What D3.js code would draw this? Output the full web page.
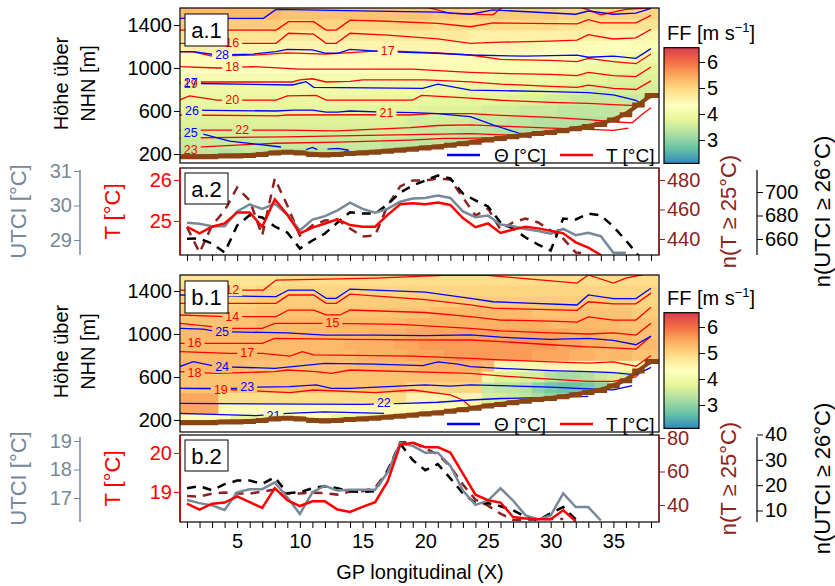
<!DOCTYPE html>
<html><head><meta charset="utf-8">
<script src="https://cdn.jsdelivr.net/npm/d3@7"></script>
<style>body{margin:0;background:#fff}</style>
</head><body><svg id="c" width="835" height="586"></svg>
<script>
// ---------------- DATA ----------------
const gpIdx = d3.range(1, 39);
const xTickLabels = [5, 10, 15, 20, 25, 30, 35];
const terrain = [180,180,180,185,185,190,200,215,220,215,200,195,200,210,215,220,230,240,250,260,270,285,300,315,335,350,365,380,395,405,420,440,460,480,520,570,660,750];
const levels = [1500,1400,1300,1200,1100,1000,900,800,700,600,500,400,300,200];
// FF (x10) rows top->bottom, columns GP1..38
const ffA = [
[53,53,53,53,53,53,53,53,52,52,52,52,52,52,52,52,52,52,52,52,51,51,51,51,51,51,51,51,51,51,50,50,50,50,50,50,50,50],
[51,51,51,51,51,51,51,51,50,50,50,50,50,50,50,50,50,50,50,50,49,49,49,49,49,49,49,49,49,49,48,48,48,48,48,48,48,48],
[48,48,48,48,48,48,48,48,47,47,47,47,47,47,47,47,47,47,47,47,47,47,47,46,46,46,46,46,46,46,46,46,46,46,45,45,45,45],
[46,46,46,45,45,45,45,45,45,45,45,45,45,45,45,45,45,45,45,45,45,45,45,45,45,45,45,45,45,44,44,44,44,44,43,43,42,42],
[44,44,44,44,44,44,44,44,44,44,44,44,44,44,44,44,44,44,44,44,44,44,44,44,44,44,44,43,43,43,43,43,43,42,41,41,40,40],
[43,43,43,43,43,43,43,43,43,43,43,43,43,43,43,42,42,42,42,42,42,42,42,42,42,42,42,42,42,42,41,41,40,40,39,39,38,38],
[41,41,41,41,41,41,41,41,41,41,41,41,41,41,41,41,41,41,41,41,41,41,41,41,41,40,40,40,40,40,39,39,38,38,37,37,37,37],
[40,40,40,40,40,40,40,40,40,40,40,40,40,40,40,40,40,40,40,40,40,40,39,39,39,39,39,38,38,38,37,37,36,36,36,36,36,36],
[39,39,39,39,39,39,39,39,39,39,39,39,39,39,39,39,39,39,39,39,38,38,38,38,38,38,37,37,37,36,36,35,35,35,35,35,35,35],
[38,38,38,38,38,38,38,38,38,38,38,38,38,38,38,38,38,38,38,37,37,37,37,37,36,36,36,35,35,35,34,34,34,34,34,35,35,35],
[37,37,37,37,37,37,37,37,37,37,37,37,37,37,37,37,37,37,36,36,36,36,36,35,35,35,34,34,33,33,33,33,33,33,34,34,34,34],
[36,36,36,36,36,36,36,36,36,36,36,36,36,36,36,36,36,36,35,35,35,35,34,34,34,33,33,33,33,33,32,32,33,33,33,33,33,33],
[35,35,35,35,35,35,35,35,35,35,35,35,35,35,35,35,34,34,34,34,34,33,33,33,33,33,32,32,32,32,32,32,32,32,32,32,32,32],
[34,34,34,33,34,35,34,34,33,33,34,34,33,34,34,33,33,32,33,33,32,32,33,33,33,33,33,33,33,33,33,33,33,33,33,33,33,33]];
const ffB = [
[48,48,48,48,48,48,48,48,49,49,49,49,49,49,49,49,49,49,49,49,49,49,49,49,49,49,49,49,49,49,49,49,49,49,49,49,49,49],
[49,49,49,49,49,49,50,50,50,50,50,50,50,50,50,50,50,50,50,50,50,50,50,50,50,50,50,50,50,50,50,50,50,50,50,50,50,50],
[50,50,50,50,50,50,51,51,51,51,51,51,51,51,51,51,51,51,51,51,51,51,51,51,51,51,51,51,51,51,51,51,51,51,51,51,50,50],
[51,51,51,51,51,51,52,52,52,52,52,52,52,52,52,52,52,52,52,52,53,53,53,53,53,53,53,53,52,52,52,52,52,52,52,52,51,51],
[52,52,52,52,52,52,53,53,53,53,53,53,53,53,53,53,53,53,54,54,54,54,54,54,54,54,54,54,54,53,53,53,53,53,53,52,52,52],
[53,53,53,53,53,53,53,53,53,53,53,53,53,53,53,54,54,54,55,55,55,55,55,55,55,55,55,55,55,55,55,54,54,54,53,53,52,52],
[53,53,53,53,53,53,53,53,53,53,53,53,53,54,54,54,54,55,55,56,56,56,56,56,56,56,56,56,56,56,55,55,54,54,53,53,53,53],
[53,53,53,53,53,53,53,53,53,53,53,53,53,53,54,54,54,54,55,55,55,56,56,56,56,56,56,56,55,55,55,54,54,53,53,53,52,52],
[53,53,53,53,53,52,52,52,52,52,52,52,52,52,53,53,53,53,53,54,54,54,54,54,53,45,45,45,45,45,45,45,45,45,45,45,45,45],
[52,52,52,52,52,52,52,52,52,52,52,52,52,52,52,52,52,52,52,52,52,52,52,52,40,37,37,36,36,33,32,32,33,35,36,36,36,36],
[52,52,52,52,52,52,52,52,52,52,52,52,52,52,52,52,52,52,50,50,50,50,50,50,35,34,34,33,30,28,27,27,28,30,33,33,33,33],
[55,55,55,49,49,49,49,49,49,49,49,49,49,49,49,49,49,49,45,45,45,45,45,45,36,36,35,34,32,30,30,30,30,30,30,30,30,30],
[55,55,55,44,44,44,44,44,44,44,44,44,44,44,44,44,44,44,44,44,44,44,44,44,38,37,37,36,34,32,32,32,32,32,32,32,32,32],
[43,43,43,43,38,38,38,38,43,43,43,43,38,38,38,38,43,43,43,43,43,43,43,43,43,40,40,40,40,40,40,40,40,40,40,40,40,40]];
const cbTicks = [3, 4, 5, 6];
const hTicks = [200, 600, 1000, 1400];

// contour lines a.1 : [GP, height m]
const a1Red = [
[[19,1600],[22,1509],[25.4,1495],[26.3,1580]],
[[31.5,1600],[33,1540],[34,1495],[35,1520],[36,1545],[38,1560]],
[[0.4,1353],[8.1,1353],[9.1,1431],[11.1,1431],[12.1,1353],[12.9,1353],[14,1445],[17,1435],[21,1415],[23.6,1384],[25.4,1420],[32.1,1410],[33,1450],[34,1420],[36.8,1420],[38,1490]],
[[0.4,1230],[8.1,1230],[9.1,1323],[11.1,1315],[12.1,1230],[12.9,1230],[14,1323],[17,1305],[21,1270],[23.6,1230],[26,1240],[30,1250],[32.1,1260],[33,1310],[35,1270],[36.8,1280],[38,1360]],
[[0.4,1150],[1.5,1150],[3,1110],[6.3,1120],[9,1140],[12,1130],[16.7,1161],[20.9,1140],[23.6,1121],[26,1080],[30,1070],[32.1,1060],[33,1090],[35,1060],[36.8,1040],[38,1130]],
[[0.4,1013],[3.4,1000],[6.3,1013],[10,990],[14,990],[19,990],[21,975],[23.6,960],[26,950],[30,940],[32.1,930],[33,960],[35,930],[36.8,920],[38,1010]],
[[0.4,870],[9.4,870],[10,890],[11,900],[12.1,870],[14,875],[15,890],[20,890],[23.6,870],[26,850],[30,830],[32.1,820],[33,840],[35,810],[36.8,800],[38,880]],
[[0.4,702],[1.2,740],[3.4,702],[8.1,702],[9,740],[11.3,745],[12.1,702],[19,702],[19.7,745],[23.6,720],[26,700],[30,680],[33,670],[35,660],[36.8,650],[38,740]],
[[0.4,563],[8.1,555],[9,563],[16.7,565],[18.8,563],[20.5,575],[23.6,575],[26,560],[30,540],[33,520],[35,500],[36.5,490],[37.2,560],[38,630]],
[[0.4,423],[4,423],[8.5,423],[13,415],[18.8,445],[21,465],[23.6,470],[26,460],[30,440],[33,430],[35,420],[36.2,440]],
[[0.4,349],[8.8,360],[18.8,380],[23.6,390],[27,375],[29,380],[30.5,400]],
[[1.5,262],[8,300],[13,310],[18.8,330],[21.5,345],[23,345],[25,350]]];
const a1Blue = [
[[0.4,1462],[7.1,1462],[8.1,1545],[16,1530],[21,1520],[23.6,1500],[25.4,1540],[32,1500],[33,1530],[35,1500],[36.8,1510],[38,1555]],
[[0.4,1152],[1.5,1152],[3.4,1121],[6.3,1130],[8.1,1152],[9,1174],[11,1168],[12.1,1137],[13,1137],[14,1174],[16.7,1152],[20.9,1137],[23.6,1121],[28,1110],[32.1,1120],[33,1100],[35,1110],[36.8,1090],[38,1180]],
[[0.4,858],[9.4,842],[10.5,873],[11.1,820],[19.8,811],[21,850],[23.6,795],[26,790],[30,780],[33,770],[35,750],[36.8,700],[37.3,660]],
[[1.2,609],[8.1,600],[9.5,609],[11,609],[12.1,590],[13,590],[14,600],[16.7,590],[19,585],[21,575],[22,563],[23.6,547],[25.4,470],[27.3,400],[28.4,350]],
[[2.3,385],[4.4,320],[8.5,265]],
[[10.5,240],[11,262],[11.4,240]],
[[12.2,245],[13,253],[13.9,235]]];
const a1RedLab = [[4.6,1230,"16"],[17,1161,"17"],[4.6,1012,"18"],[1.3,851,"19"],[4.6,702,"20"],[16.9,578,"21"],[5.4,423,"22"],[1.3,240,"23"]];
const a1BlueLab = [[3.8,1121,"28"],[1.3,858,"27"],[1.4,600,"26"],[1.3,395,"25"]];

const b1Red = [
[[0.4,1409],[7.1,1409],[8.1,1502],[16,1520],[22,1548],[25,1545],[32.1,1474],[33,1549],[35,1474],[36,1520],[38,1567]],
[[0.4,1285],[8.1,1285],[9.1,1363],[11.1,1363],[12.1,1285],[12.9,1285],[14,1370],[20,1320],[23.6,1270],[25.4,1240],[32.1,1220],[33,1300],[35,1280],[36.8,1280],[38,1380]],
[[0.4,1177],[4,1161],[8.1,1161],[9.1,1223],[11.1,1223],[12.1,1177],[13.2,1177],[14,1223],[20,1200],[23.6,1161],[26,1130],[30,1120],[32.1,1110],[33,1160],[35,1130],[36.8,1130],[38,1250]],
[[0.4,1099],[4.4,1053],[7,1053],[8,1099],[12.6,1099],[18,1090],[23.6,1053],[26,1030],[30,1010],[33,1000],[35,1010],[36.8,990],[38,1100]],
[[0.4,913],[7,913],[8,960],[14,950],[19,945],[23.6,944],[26,930],[30,900],[33,880],[35,870],[36.8,860],[38,980]],
[[0.4,836],[4.4,820],[7,820],[9.2,795],[10.2,836],[11.1,805],[19,795],[23.6,774],[26,760],[30,740],[33,730],[35,740],[36.8,700],[38,800]],
[[0.4,650],[3.4,634],[8,650],[9,665],[11.3,650],[12.5,634],[14,665],[23.6,634],[26,610],[30,580],[33,560],[35,560],[36.8,600],[37.5,700]],
[[0.4,495],[3,490],[5,479],[9.2,454],[11.1,479],[16,454],[19,479],[22,433],[23,386],[23.6,324],[24,290]]];
const b1Blue = [
[[0.4,1363],[8.1,1347],[9.1,1409],[11.1,1409],[12.1,1332],[12.9,1332],[14,1418],[20,1390],[23.6,1332],[25.4,1300],[32.1,1270],[33,1363],[35,1330],[36.8,1330],[38,1425]],
[[0.4,1053],[2.3,1045],[3.4,1022],[7,1015],[9,1010],[12,990],[16,990],[20,985],[23.6,991],[26,970],[30,950],[33,960],[35,940],[36.8,900],[38,980]],
[[0.4,696],[1.5,743],[3.4,696],[8,681],[12,727],[16,720],[19.8,705],[21,740],[22.6,720],[23.6,696],[26,680],[30,660],[33,650],[35,640],[36.8,620],[38,690]],
[[0.4,495],[5,495],[6.6,505],[9.2,510],[11.3,526],[12.5,495],[14,495],[20,526],[22,515],[23.6,526],[26,520],[30,505],[33,490],[35,480],[36.5,520]],
[[0.4,355],[15,345],[18.5,355],[21,365],[23.6,386],[26,400],[30,410],[33,420]],
[[0.4,262],[6.5,240],[9,262],[12,276],[16.7,262]]];
const b1RedLab = [[4.6,1409,"12"],[4.6,1161,"14"],[12.6,1099,"15"],[1.6,913,"16"],[5.8,820,"17"],[1.6,634,"18"],[3.7,479,"19"]];
const b1BlueLab = [[3.8,1022,"25"],[3.8,696,"24"],[5.8,510,"23"],[16.7,355,"22"],[7.9,240,"21"]];

// time-series panels
const a2T = [24.86,24.70,24.86,24.94,25.21,25.21,24.86,25.53,25.15,24.70,24.84,24.94,25.04,24.90,24.86,24.86,25.15,25.41,25.43,25.41,25.45,25.39,25.07,24.85,24.94,24.71,24.79,24.86,24.82,24.76,24.70,24.48,24.35,24.17];
const a2U = [29.50,29.47,29.40,29.40,29.83,30.03,29.90,30.05,29.74,29.28,29.59,29.69,29.86,30.08,29.90,29.79,29.90,30.11,30.20,30.22,30.29,30.22,29.83,29.66,29.71,29.45,29.40,29.32,29.26,29.18,29.32,29.14,29.21,29.11,28.63,28.63];
const a2nT = [448.0,430.8,449.2,459.3,474.9,466.1,442.4,481.0,462.7,442.4,449.2,452.5,453.2,447.1,441.7,442.4,462.7,475.6,479.7,479.7,481.0,480.3,468.1,455.9,460.7,446.4,451.2,453.9,451.2,445.8,440.3,430.8,430.2];
const a2nU = [660.2,660.4,656.2,648.5,671.5,680.3,678.3,670.6,665.5,651.9,658.7,664.7,674,682.8,681.7,681.7,689.4,699.6,705.5,709.8,714,711.5,698.7,692.8,687.7,674,668.9,661.3,655.3,650.2,677.4,676.6,681.7,680,670.6,658.7,646];
const b2T = [18.70,18.55,18.70,18.73,18.89,18.74,18.59,19.10,18.79,18.64,18.76,18.76,18.55,18.49,18.62,18.74,19.27,20.21,20.26,20.15,20.15,20.01,19.47,18.93,18.79,18.73,18.36,18.32,18.30,18.30,18.53,18.25];
const b2U = [16.93,16.82,16.74,16.58,17.20,17.31,17.31,17.55,17.02,16.44,17.20,17.43,17.26,17.29,17.29,17.29,17.90,18.92,18.83,18.59,18.59,18.13,17.26,16.76,16.91,17.34,16.91,16.39,16.25,16.39,17.16,16.68,16.68,16.21];
const b2nT = [45.4,45.0,46.8,47.4,46.8,46.8,48.0,49.2,46.8,46.8,47.4,47.1,46.2,48.0,48.2,50.4,60,77.4,77.4,73.8,70.2,63.0,52.2,43.2,39.6,34.8,31.2,31.0,31.6,31.6,31.6];
const b2nU = [18.8,19.6,18.0,20.4,21.8,21.8,20.5,23.1,16.8,17.2,18.8,19.6,18.8,17.6,17.3,17.6,25.9,36.4,29.9,25.9,28.3,22.7,16.8,12.9,12.9,11.7,10.1,7.5,6.1,8.9,11.4,6.5];

// ---------------- DRAWING ----------------
const FONT = '"Liberation Sans", Arial, Helvetica, sans-serif';
const RED = "#FF0000", BLUE = "#0000FF", GRAY = "#778899", BROWN = "#8B2323", TERR = "#8B4513";
const fmt = d3.format("d");
const svg = d3.select("#c");
const defs = svg.append("defs");
const X0 = 180, X1 = 659;
const x = d3.scaleLinear().domain([1, 38]).range([187, 651]);
const spectral = ["#3288BD","#66C2A5","#ABDDA4","#E6F598","#FFFFBF","#FEE08B","#FDAE61","#F46D43","#D53E4F"];
const FFMIN = 2.1, FFMAX = 6.55;
const color = d3.scaleLinear().domain(d3.range(9).map(i => FFMIN + i*(FFMAX-FFMIN)/8)).range(spectral).clamp(true);

function txt(g, x0, y0, s, o = {}) {
  const t = g.append("text").attr("x", x0).attr("y", y0).text(s)
    .attr("font-family", FONT).attr("font-size", o.size || 20)
    .attr("fill", o.fill || "#000").attr("text-anchor", o.anchor || "middle");
  if (o.rot) t.attr("transform", `rotate(-90,${x0},${y0})`);
  if (o.base) t.attr("dominant-baseline", o.base);
  return t;
}

function fieldPanel(id, top, bot, y, ff, reds, blues, redLab, blueLab, label, cbTop) {
  defs.append("clipPath").attr("id", "clip" + id).append("rect")
    .attr("x", X0).attr("y", top).attr("width", X1 - X0).attr("height", bot - top);
  const g = svg.append("g").attr("clip-path", `url(#clip${id})`);
  levels.forEach((L, k) => {
    const hi = k === 0 ? 2000 : L + 50, lo = k === levels.length - 1 ? 0 : L - 50;
    gpIdx.forEach((p, i) => {
      const b = Math.max(lo, terrain[i]);
      if (b >= hi) return;
      g.append("rect").attr("x", x(p - 0.5)).attr("width", x(p + 0.5) - x(p - 0.5) + 0.6)
        .attr("y", y(hi)).attr("height", y(b) - y(hi) + 0.6)
        .attr("fill", color(ff[k][i] / 10));
    });
  });
  const m = defs.append("mask").attr("id", "mask" + id);
  m.append("rect").attr("x", 0).attr("y", 0).attr("width", 835).attr("height", 586).attr("fill", "white");
  redLab.concat(blueLab).forEach(l => m.append("rect").attr("x", x(l[0]) - 10).attr("y", y(l[1]) - 6)
    .attr("width", 20).attr("height", 12).attr("fill", "black"));
  const line = d3.line().x(d => x(d[0])).y(d => y(d[1]));
  const lg = g.append("g").attr("mask", `url(#mask${id})`);
  reds.forEach(r => lg.append("path").attr("d", line(r)).attr("fill", "none").attr("stroke", RED).attr("stroke-width", 1.3));
  blues.forEach(r => lg.append("path").attr("d", line(r)).attr("fill", "none").attr("stroke", BLUE).attr("stroke-width", 1.3));
  redLab.forEach(l => txt(g, x(l[0]), y(l[1]), l[2], {size: 12.5, fill: RED, base: "central"}));
  blueLab.forEach(l => txt(g, x(l[0]), y(l[1]), l[2], {size: 12.5, fill: BLUE, base: "central"}));
  const tp = gpIdx.map((p, i) => [p, terrain[i]]);
  tp.unshift([0.4, terrain[0]]); tp.push([38.6, terrain[37]]);
  g.append("path").attr("d", d3.area().x(d => x(d[0])).y0(d => y(d[1]) + 3).y1(d => y(d[1]) - 2).curve(d3.curveStep)(tp))
    .attr("fill", TERR);
  g.append("path").attr("d", d3.line().x(d => x(d[0])).y(d => y(d[1])).curve(d3.curveBasis)(tp))
    .attr("fill", "none").attr("stroke", TERR).attr("stroke-width", 4);
  svg.append("rect").attr("x", X0).attr("y", top).attr("width", X1 - X0).attr("height", bot - top)
    .attr("fill", "none").attr("stroke", "#000").attr("stroke-width", 1.2);
  const ax = svg.append("g").attr("transform", `translate(${X0},0)`)
    .call(d3.axisLeft(y).tickValues(hTicks).tickSize(6).tickSizeOuter(0).tickFormat(fmt));
  ax.select(".domain").remove();
  ax.selectAll("text").attr("font-family", FONT).attr("font-size", 20).attr("fill", "#000").attr("x", -8);
  ax.selectAll("line").attr("stroke", "#000");
  txt(svg, 68, (top + bot) / 2 - 2, "Höhe über", {rot: true, size: 20});
  txt(svg, 95, (top + bot) / 2 - 2, "NHN [m]", {rot: true, size: 20});
  svg.append("rect").attr("x", 185).attr("y", top + 6).attr("width", 43).attr("height", 32).attr("fill", "#fff").attr("stroke", "#000");
  txt(svg, 206.5, top + 30, label, {size: 22});
  const ly = bot - 8;
  svg.append("line").attr("x1", 447).attr("x2", 480).attr("y1", ly).attr("y2", ly).attr("stroke", BLUE).attr("stroke-width", 2.5);
  txt(svg, 494, ly + 7, "Θ [°C]", {anchor: "start", size: 19});
  svg.append("line").attr("x1", 560).attr("x2", 593).attr("y1", ly).attr("y2", ly).attr("stroke", RED).attr("stroke-width", 2.5);
  txt(svg, 606, ly + 7, "T [°C]", {anchor: "start", size: 19});
  const cb = d3.scaleLinear().domain([3, 6]).range([cbTop + 92, cbTop + 14]);
  const gid = "grad" + id;
  const gr = defs.append("linearGradient").attr("id", gid).attr("x1", 0).attr("x2", 0).attr("y1", 1).attr("y2", 0);
  spectral.forEach((c, i) => gr.append("stop").attr("offset", i / 8).attr("stop-color", c));
  svg.append("rect").attr("x", 664).attr("y", cb(FFMAX)).attr("width", 35).attr("height", cb(FFMIN) - cb(FFMAX))
    .attr("fill", `url(#${gid})`).attr("stroke", "#000").attr("stroke-width", 1.2);
  const cax = svg.append("g").attr("transform", "translate(699,0)").call(d3.axisRight(cb).tickValues(cbTicks).tickSize(6).tickSizeOuter(0).tickFormat(fmt));
  cax.select(".domain").remove();
  cax.selectAll("text").attr("font-family", FONT).attr("font-size", 20).attr("fill", "#000").attr("x", 8);
  const ft = txt(svg, 667, cbTop - 8, "", {anchor: "start", size: 20});
  ft.append("tspan").text("FF [m s");
  ft.append("tspan").text("−1").attr("font-size", 13).attr("dy", -8);
  ft.append("tspan").text("]").attr("dy", 8);
}

fieldPanel("a1", 8, 163, d3.scaleLinear().domain([200, 1400]).range([154, 25]), ffA, a1Red, a1Blue, a1RedLab, a1BlueLab, "a.1", 48);
fieldPanel("b1", 275, 432, d3.scaleLinear().domain([200, 1400]).range([420, 291]), ffB, b1Red, b1Blue, b1RedLab, b1BlueLab, "b.1", 313);

function seriesPanel(id, top, bot, sc, data, label, ticks, showX) {
  defs.append("clipPath").attr("id", "clip" + id).append("rect")
    .attr("x", X0).attr("y", top).attr("width", X1 - X0).attr("height", bot - top);
  const g = svg.append("g").attr("clip-path", `url(#clip${id})`);
  const mk = (arr, s) => d3.line().x((d, i) => x(i + 1)).y(d => s(d))(arr);
  g.append("path").attr("d", mk(data.nT, sc.nT)).attr("fill", "none").attr("stroke", BROWN).attr("stroke-width", 2.5).attr("stroke-dasharray", "9,7");
  g.append("path").attr("d", mk(data.nU, sc.nU)).attr("fill", "none").attr("stroke", "#000").attr("stroke-width", 2.5).attr("stroke-dasharray", "9,7");
  g.append("path").attr("d", mk(data.U, sc.U)).attr("fill", "none").attr("stroke", GRAY).attr("stroke-width", 2.5);
  g.append("path").attr("d", mk(data.T, sc.T)).attr("fill", "none").attr("stroke", RED).attr("stroke-width", 2.5);
  svg.append("rect").attr("x", X0).attr("y", top).attr("width", X1 - X0).attr("height", bot - top)
    .attr("fill", "none").attr("stroke", "#000").attr("stroke-width", 1.2);
  svg.append("line").attr("x1", X0).attr("x2", X0).attr("y1", top).attr("y2", bot).attr("stroke", "#CC0000").attr("stroke-width", 1.5);
  svg.append("line").attr("x1", X1).attr("x2", X1).attr("y1", top).attr("y2", bot).attr("stroke", BROWN).attr("stroke-width", 1.5);
  const axis = (gen, tx, scale, tv, col, dx) => {
    const a = svg.append("g").attr("transform", `translate(${tx},0)`).call(gen(scale).tickValues(tv).tickSize(6).tickSizeOuter(0).tickFormat(fmt));
    a.select(".domain").remove();
    a.selectAll("line").attr("stroke", col);
    a.selectAll("text").attr("font-family", FONT).attr("font-size", 20).attr("fill", col).attr("x", dx);
    return a;
  };
  axis(d3.axisLeft, X0, sc.T, ticks.T, RED, -8);
  axis(d3.axisRight, X1, sc.nT, ticks.nT, BROWN, 8);
  axis(d3.axisLeft, 80, sc.U, ticks.U, GRAY, -8);
  svg.append("line").attr("x1", 80).attr("x2", 80).attr("y1", top + 2).attr("y2", bot).attr("stroke", GRAY).attr("stroke-width", 1.5);
  axis(d3.axisRight, 757, sc.nU, ticks.nU, "#000", 8);
  svg.append("line").attr("x1", 757).attr("x2", 757).attr("y1", top + 2).attr("y2", bot).attr("stroke", "#000").attr("stroke-width", 1.2);
  const mid = (top + bot) / 2;
  txt(svg, 26, mid, "UTCI [°C]", {rot: true, size: 22, fill: GRAY});
  txt(svg, 120, mid, "T [°C]", {rot: true, size: 22, fill: RED});
  txt(svg, 736, mid, "n(T ≥ 25°C)", {rot: true, size: 22, fill: BROWN});
  txt(svg, 830, mid, "n(UTCI ≥ 26°C)", {rot: true, size: 22, fill: "#000"});
  const xa = svg.append("g").attr("transform", `translate(0,${bot})`)
    .call(d3.axisBottom(x).tickValues(gpIdx).tickSize(6).tickSizeOuter(0).tickFormat(d => showX && xTickLabels.includes(d) ? d : ""));
  xa.select(".domain").remove();
  xa.selectAll("line").attr("stroke", "#000");
  xa.selectAll("text").attr("font-family", FONT).attr("font-size", 20).attr("fill", "#000").attr("y", 12);
  svg.append("rect").attr("x", 185).attr("y", top + 5).attr("width", 43).attr("height", 31).attr("fill", "#fff").attr("stroke", "#000");
  txt(svg, 206.5, top + 29, label, {size: 22});
}

seriesPanel("a2", 168, 255, {
  T: d3.scaleLinear().domain([25, 26]).range([221, 180]),
  U: d3.scaleLinear().domain([29, 31]).range([240, 171]),
  nT: d3.scaleLinear().domain([440, 480]).range([239, 180]),
  nU: d3.scaleLinear().domain([660, 700]).range([239, 192])
}, {T: a2T, U: a2U, nT: a2nT, nU: a2nU}, "a.2", {T: [25, 26], U: [29, 30, 31], nT: [440, 460, 480], nU: [660, 680, 700]}, false);

seriesPanel("b2", 435, 522, {
  T: d3.scaleLinear().domain([19, 20]).range([492, 453]),
  U: d3.scaleLinear().domain([17, 19]).range([498, 441]),
  nT: d3.scaleLinear().domain([40, 80]).range([505, 438]),
  nU: d3.scaleLinear().domain([10, 40]).range([510.5, 434.5])
}, {T: b2T, U: b2U, nT: b2nT, nU: b2nU}, "b.2", {T: [19, 20], U: [17, 18, 19], nT: [40, 60, 80], nU: [10, 20, 30, 40]}, true);

txt(svg, 420, 579, "GP longitudinal (X)", {size: 20});
</script></body></html>
